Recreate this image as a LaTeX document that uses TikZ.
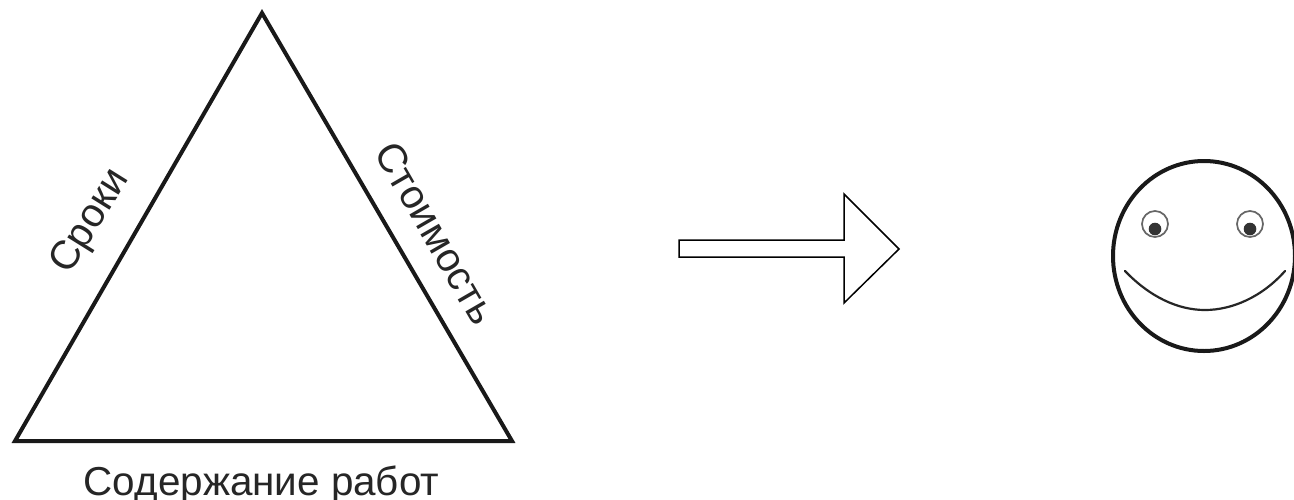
\documentclass[tikz,border=0pt]{standalone}
\usepackage{fontspec}
\setmainfont{Liberation Sans}
\tikzset{
  lbl/.style={inner sep=0pt,font=\fontsize{40.4}{41}\selectfont,text=black!85},
  tri/.style={draw=black!90,line width=4pt,line join=miter},
  arr/.style={draw=black,line width=1.5pt,line join=miter,fill=white},
  eye/.style={draw=black!60,line width=1.7pt,fill=white},
}
\begin{document}
\begin{tikzpicture}[x=1pt,y=-1pt]
\useasboundingbox (0,0) rectangle (1294,499);
\clip (0,0) rectangle (1294,499);
\fill[white] (0,0) rectangle (1294,499);
\draw[tri] (262,13) -- (512,441) -- (15,441) -- cycle;
\node[lbl,anchor=base] (scope) at (261.5,495) {Содержание работ};
\node[lbl,rotate=58] (time) at (91,222) {Сроки};
\node[lbl,rotate=-60] (cost) at (436,233) {Стоимость};
\draw[arr] (679,240) -- (844,240) -- (844,194) -- (899,249) -- (844,303) -- (844,257) -- (679,257) -- cycle;
\draw[draw=black!90,line width=4pt] (1204,256) ellipse [x radius=91,y radius=95];
\draw[eye] (1155,224) circle (13);
\draw[eye] (1250,224) circle (13);
\fill[black!80] (1155,229) circle (6.3);
\fill[black!80] (1250,229) circle (6.3);
\draw[black!85,line width=2.2pt,line cap=round] (1125,271) .. controls (1150,297) and (1178,310) .. (1205,310) .. controls (1232,310) and (1262,297) .. (1285,271);
\end{tikzpicture}
\end{document}
